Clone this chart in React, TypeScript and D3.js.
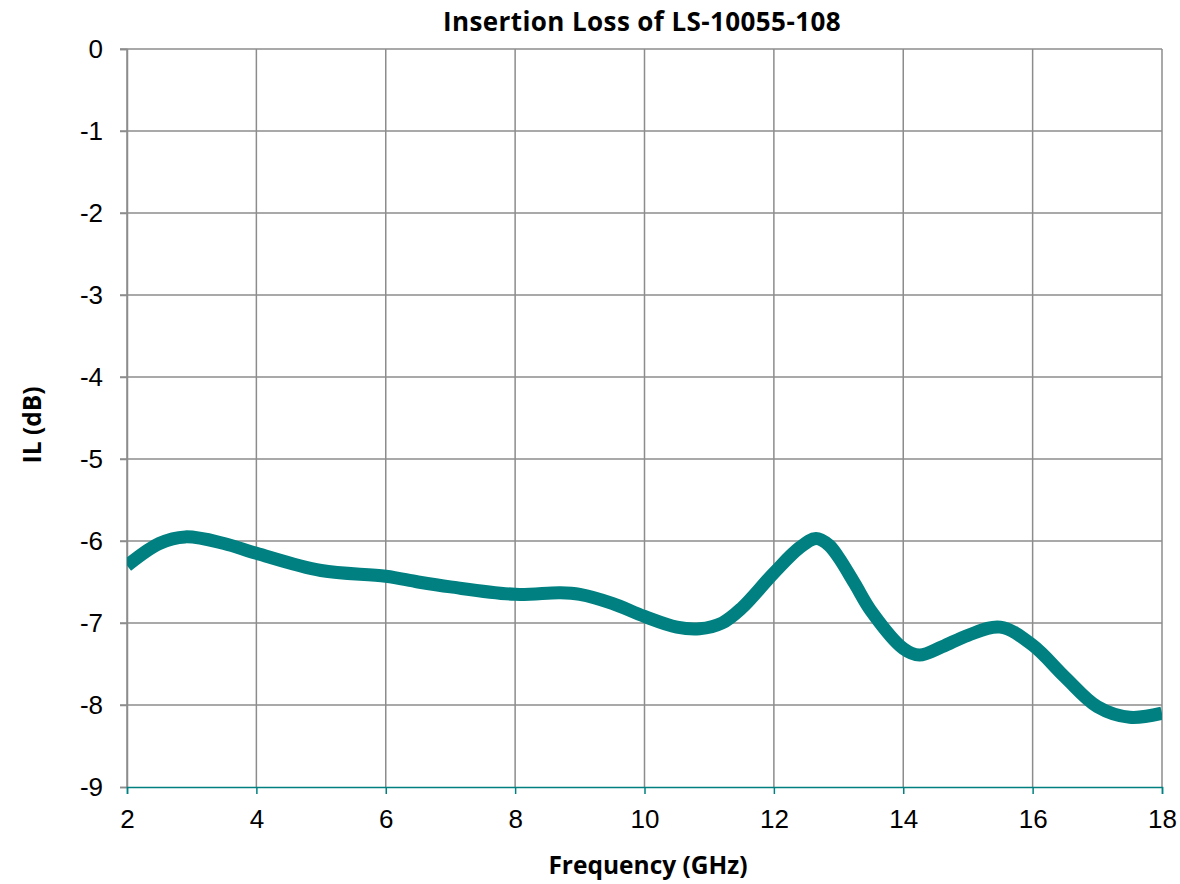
import React, { useRef, useEffect } from "react";
import * as d3 from "d3";

// Frequency (GHz) and insertion loss (dB)
const freqs = [2, 2.5, 2.9, 3.5, 4, 5, 6, 6.5, 7, 8, 8.7, 9, 9.5, 10, 10.5, 10.85, 11.2, 11.5, 12, 12.4, 12.65, 12.85, 13, 13.25, 13.5, 14, 14.25, 14.6, 15, 15.5, 16, 16.5, 17, 17.5, 18];
const lossDb = [-6.3, -6.03, -5.95, -6.03, -6.15, -6.36, -6.43, -6.5, -6.56, -6.65, -6.63, -6.65, -6.76, -6.92, -7.05, -7.07, -7.0, -6.82, -6.39, -6.08, -5.97, -6.05, -6.2, -6.52, -6.85, -7.31, -7.39, -7.29, -7.15, -7.05, -7.27, -7.66, -8.02, -8.15, -8.1];

const xTicks = [2, 4, 6, 8, 10, 12, 14, 16, 18];
const yTicks = [0, -1, -2, -3, -4, -5, -6, -7, -8, -9];

const title = "Insertion Loss of LS-10055-108";
const xLabel = "Frequency (GHz)";
const yLabel = "IL (dB)";

const App: React.FC = () => {
    const svgRef = useRef<SVGSVGElement | null>(null);
    const width = 1180;
    const height = 884;

    useEffect(() => {
        if (!svgRef.current) return;
        const svg = d3.select(svgRef.current);
        svg.selectAll("*").remove();

        const margin = { top: 49, right: 18, bottom: 97, left: 127 };
        const x = d3.scaleLinear().domain([2, 18]).range([margin.left, width - margin.right]);
        const y = d3.scaleLinear().domain([-9, 0]).range([height - margin.bottom, margin.top]);

        const grid = "#8c8c8c";
        const teal = "#008080";
        const tickFont = "'Liberation Sans', Arial, sans-serif";
        const boldFont = "'Open Sans', 'Noto Sans', sans-serif";
        const fmt = (d: d3.NumberValue) => String(d); // plain hyphen minus, like the original

        // gridlines
        svg.append("g")
            .selectAll("line")
            .data(xTicks)
            .enter()
            .append("line")
            .attr("x1", (d) => x(d))
            .attr("x2", (d) => x(d))
            .attr("y1", y(0))
            .attr("y2", y(-9))
            .attr("stroke", grid)
            .attr("stroke-width", 1.5);

        svg.append("g")
            .selectAll("line")
            .data(yTicks.filter((d) => d !== -9))
            .enter()
            .append("line")
            .attr("x1", x(2) - 7)
            .attr("x2", x(18))
            .attr("y1", (d) => y(d))
            .attr("y2", (d) => y(d))
            .attr("stroke", grid)
            .attr("stroke-width", 1.5);

        // y axis
        const yAxis = svg
            .append("g")
            .attr("transform", `translate(${x(2)},0)`)
            .call(d3.axisLeft(y).tickValues(yTicks).tickSize(7).tickPadding(17).tickFormat(fmt));
        yAxis.attr("font-size", 26).attr("font-family", tickFont);
        yAxis.select(".domain").attr("stroke", grid).attr("stroke-width", 1.5);
        yAxis.selectAll(".tick line").attr("stroke", grid).attr("stroke-width", 1.5);
        yAxis.selectAll(".tick text").attr("fill", "#000");

        // x axis
        const xAxis = svg
            .append("g")
            .attr("transform", `translate(0,${y(-9)})`)
            .call(d3.axisBottom(x).tickValues(xTicks).tickSize(7).tickPadding(16).tickFormat(fmt));
        xAxis.attr("font-size", 26).attr("font-family", tickFont);
        xAxis.select(".domain").attr("stroke", teal).attr("stroke-width", 1.5);
        xAxis.selectAll(".tick line").attr("stroke", teal).attr("stroke-width", 1.5);
        xAxis.selectAll(".tick text").attr("fill", "#000");

        // the curve
        const data = freqs.map((f, i) => ({ f, v: lossDb[i] }));
        const line = d3
            .line<{ f: number; v: number }>()
            .x((d) => x(d.f))
            .y((d) => y(d.v))
            .curve(d3.curveCatmullRom.alpha(0.5));

        svg.append("clipPath")
            .attr("id", "plot-clip")
            .append("rect")
            .attr("x", x(2))
            .attr("y", y(0))
            .attr("width", x(18) - x(2))
            .attr("height", y(-9) - y(0));

        svg.append("path")
            .datum(data)
            .attr("d", line)
            .attr("fill", "none")
            .attr("stroke", teal)
            .attr("stroke-width", 13)
            .attr("stroke-linejoin", "round")
            .attr("clip-path", "url(#plot-clip)");

        // titles
        svg.append("text")
            .attr("x", 642)
            .attr("y", 31)
            .attr("text-anchor", "middle")
            .style("font-family", boldFont)
            .style("font-weight", "bold")
            .style("font-size", "26px")
            .style("letter-spacing", "0.4px")
            .text(title);

        svg.append("text")
            .attr("x", 648)
            .attr("y", 874)
            .attr("text-anchor", "middle")
            .style("font-family", boldFont)
            .style("font-weight", "bold")
            .style("font-size", "24.5px")
            .text(xLabel);

        svg.append("text")
            .attr("transform", `translate(41,${425}) rotate(-90)`)
            .attr("text-anchor", "middle")
            .style("font-family", boldFont)
            .style("font-weight", "bold")
            .style("font-size", "24.5px")
            .text(yLabel);
    }, []);

    return (
        <svg
            ref={svgRef}
            width={width}
            height={height}
            style={{ position: "absolute", left: 0, top: 0, background: "#fff" }}
        ></svg>
    );
};

export default App;
